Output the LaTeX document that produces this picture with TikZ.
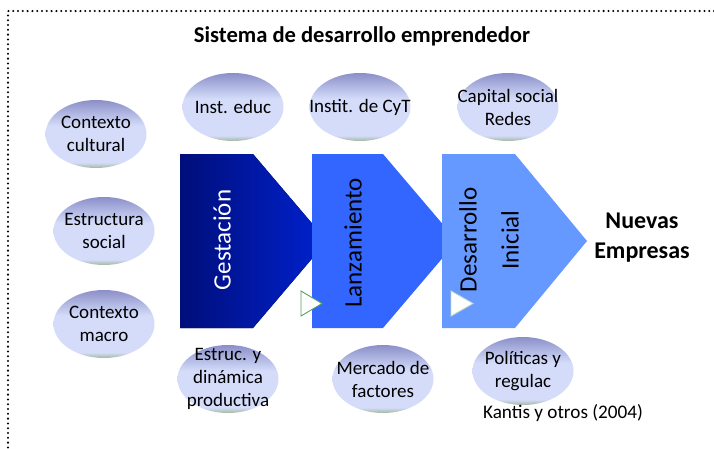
\documentclass[tikz,border=0pt]{standalone}
\usepackage{fontspec}
\setmainfont{Carlito}
\usetikzlibrary{shapes.geometric}

\definecolor{ftop}{HTML}{8B8FC8}
\definecolor{flight}{HTML}{D4DCFA}
\definecolor{fbot}{HTML}{A3B89C}
\definecolor{gestL}{HTML}{000E7A}
\definecolor{gestR}{HTML}{0022D0}
\definecolor{lanz}{HTML}{3366FF}
\definecolor{desa}{HTML}{6699FF}
\definecolor{cueA}{HTML}{5A9E5A}
\definecolor{cueB}{HTML}{C8DCC0}

\pgfdeclareverticalshading{factorshade}{100bp}{color(0bp)=(fbot); color(25bp)=(fbot); color(29bp)=(flight); color(56bp)=(flight); color(75bp)=(ftop); color(100bp)=(ftop)}

\tikzset{
  factor/.style={ellipse, minimum width=101pt, minimum height=68pt, inner sep=0pt, shading=factorshade},
  ftext/.style={align=center, inner sep=0pt, font=\fontsize{19}{23}\selectfont},
  stage/.style={rotate=90, align=center, inner sep=0pt, font=\fontsize{25}{42}\selectfont},
  cue/.style={line width=0.9pt, fill=white},
}

\begin{document}
\begin{tikzpicture}[x=1pt, y=-1pt]
    \useasboundingbox (0,0) rectangle (714,448);

    % dotted frame
    \draw[line width=2.3pt, line cap=round, dash pattern=on 0pt off 4.8pt] (714,11) -- (8,11) -- (8,448);

    \node[font=\bfseries\fontsize{22.6}{26}\selectfont] (title) at (362,36) {Sistema de desarrollo emprendedor};

    % stages
    \fill[left color=gestL, right color=gestR] (180,154) -- (253,154) -- (327,241) -- (253,328) -- (180,328) -- cycle;
    \fill[lanz] (312,154) -- (383,154) -- (457,241) -- (383,328) -- (312,328) -- cycle;
    \fill[desa] (442,154) -- (515,154) -- (587,241) -- (515,328) -- (442,328) -- cycle;
    \node[stage, text=white] (gest) at (222,240) {Gestación};
    \node[stage] (lanzam) at (353,243) {Lanzamiento};
    \node[stage] (desarr) at (489,240) {Desarrollo\\Inicial};

    \draw[cue, draw=cueA] (301,291) -- (301,316) -- (322,303.5) -- cycle;
    \draw[cue, draw=cueB] (451,291) -- (451,316) -- (473,303.5) -- cycle;

    \node[align=center, font=\bfseries\fontsize{24}{30}\selectfont] (nuevas) at (642,238) {Nuevas\\Empresas};

    % factors, left
    \node[factor, label={[ftext]center:Contexto\\cultural}] (cultural) at (96,134) {};
    \node[factor, label={[ftext]center:Estructura\\social}] (social) at (104,231) {};
    \node[factor, label={[ftext]center:Contexto\\macro}] (macro) at (104,324) {};

    % factors, top
    \node[factor, label={[ftext]center:Inst. educ}] (educ) at (233,107) {};
    \node[factor, label={[ftext]center:Instit. de CyT}] (cyt) at (360,107) {};
    \node[factor, label={[ftext]center:Capital social\\Redes}] (capital) at (508,107) {};

    % factors, bottom
    \node[factor, label={[ftext]center:Estruc. y\\dinámica\\productiva}] (estruc) at (228,379) {};
    \node[factor, label={[ftext]center:Mercado de\\factores}] (mercado) at (383,379) {};
    \node[factor, label={[ftext]center:Políticas y\\regulac}] (politicas) at (523,371) {};

    \node[font=\fontsize{19.2}{23}\selectfont] (fuente) at (563,413) {Kantis y otros (2004)};
\end{tikzpicture}
\end{document}
